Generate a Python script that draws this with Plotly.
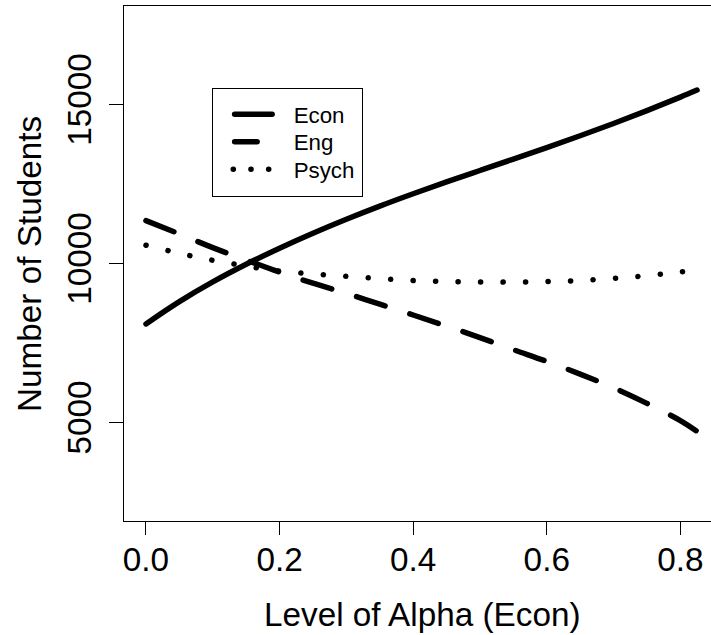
import plotly.graph_objects as go

# Level of alpha (x) and number of students per major
alpha = [0.0, 0.05, 0.1, 0.15, 0.2, 0.25, 0.3, 0.35, 0.4, 0.45, 0.5, 0.55,
         0.6, 0.65, 0.7, 0.75, 0.8, 0.825]
econ = [8100, 8800, 9420, 9975, 10480, 10950, 11390, 11805, 12195, 12565,
        12925, 13283, 13645, 14018, 14405, 14810, 15235, 15455]
eng = [11350, 10930, 10500, 10110, 9730, 9380, 9060, 8720, 8380, 8030,
       7670, 7290, 6920, 6520, 6090, 5600, 5060, 4720]
psych = [10575, 10320, 10100, 9920, 9760, 9670, 9595, 9525, 9465, 9435,
         9420, 9415, 9435, 9465, 9535, 9620, 9735, 9800]

x_ticks = [0.0, 0.2, 0.4, 0.6, 0.8]
x_ticktext = ["0.0", "0.2", "0.4", "0.6", "0.8"]
y_ticks = [5000, 10000, 15000]
y_ticktext = ["5000", "10000", "15000"]

FONT = "Liberation Sans, Arial, Helvetica, sans-serif"
FS = 33.3
LW = 5.5

fig = go.Figure()
fig.add_trace(go.Scatter(x=alpha, y=econ, name="Econ", mode="lines",
                         line=dict(color="black", width=LW, shape="spline")))
fig.add_trace(go.Scatter(x=alpha, y=eng, name="Eng", mode="lines",
                         line=dict(color="black", width=LW, shape="spline",
                                   dash="30px,26px")))
fig.add_trace(go.Scatter(x=alpha, y=psych, name="Psych", mode="lines",
                         line=dict(color="black", width=LW, shape="spline",
                                   dash="0.1px,22.4px")))

fig.update_layout(
    width=711, height=635,
    margin=dict(l=124, r=0, t=6, b=114),
    paper_bgcolor="white", plot_bgcolor="white",
    font=dict(family=FONT, size=FS, color="black"),
    showlegend=True,
    legend=dict(x=0.151, y=0.84, xanchor="left", yanchor="top",
                bgcolor="white", bordercolor="black", borderwidth=1,
                font=dict(size=22.3, family=FONT), itemwidth=70,
                tracegroupgap=0),
    xaxis=dict(range=[-0.0329, 0.8459], tickvals=x_ticks, ticktext=x_ticktext,
               showline=True, linecolor="black", linewidth=1, mirror=True,
               ticks="outside", ticklen=13, tickcolor="black", tickwidth=1,
               showgrid=False, zeroline=False, ticklabelstandoff=-4,
               tickfont=dict(size=FS, family=FONT)),
    yaxis=dict(range=[1900, 18100], tickvals=y_ticks, ticktext=y_ticktext,
               showline=True, linecolor="black", linewidth=1, mirror=False,
               ticks="outside", ticklen=14, tickcolor="black", tickwidth=1,
               showgrid=False, zeroline=False, tickangle=-90,
               ticklabelstandoff=5,
               tickfont=dict(size=FS, family=FONT)),
    annotations=[
        dict(text="Level of Alpha (Econ)", xref="paper", yref="paper",
             x=0.509, y=-0.182, xanchor="center", yanchor="middle",
             showarrow=False, font=dict(size=FS, family=FONT)),
        dict(text="Number of Students", xref="paper", yref="paper",
             x=-0.161, y=0.5, xanchor="center", yanchor="middle",
             textangle=-90, showarrow=False, font=dict(size=FS, family=FONT)),
    ],
)

post = r"""
document.body.style.margin='0px';
document.body.style.overflow='hidden';
document.querySelectorAll('path.js-line').forEach(function(p){
  p.style.strokeLinecap='round'; p.style.strokeLinejoin='round';});
var legs = document.querySelectorAll('.legend .traces');
var specs = [['M21,0h37.5', null], ['M21,0h37.5', '22.5px,30px'], ['M19.6,0h35.5', '0.1px,17.6px']];
var targets = [114.3, 141.7, 169.3];
legs.forEach(function(g, i){
  var p = g.querySelector('path.js-line');
  if(p && specs[i]){ p.setAttribute('d', specs[i][0]);
    if(specs[i][1]) p.style.strokeDasharray = specs[i][1]; }
  if(p){
    var r = p.getBoundingClientRect();
    var dy = targets[i] - (r.top + r.bottom) / 2;
    var t = g.getAttribute('transform') || '';
    var m = /translate\(\s*([-\d.e]+)[\s,]+([-\d.e]+)\s*\)/.exec(t);
    if(m){ g.setAttribute('transform', 'translate(' + m[1] + ',' + (parseFloat(m[2]) + dy) + ')'); }
  }
});
var bg = document.querySelector('.legend .bg');
if(bg){ var rb = bg.getBoundingClientRect();
  var bx = parseFloat(bg.getAttribute('x') || 0), by = parseFloat(bg.getAttribute('y') || 0);
  bg.setAttribute('x', bx + (212.7 - rb.left)); bg.setAttribute('y', by + (88.3 - rb.top));
  bg.setAttribute('width', 150); bg.setAttribute('height', 107.7); }
"""

fig.write_html("out.html", config={"displayModeBar": False, "staticPlot": True},
               post_script=post)
